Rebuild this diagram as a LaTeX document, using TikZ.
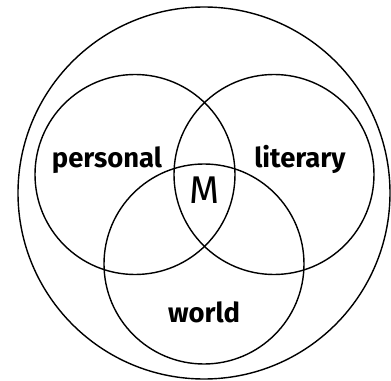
\documentclass[tikz,border=0pt]{standalone}
\usepackage{fontspec}
\setmainfont{Fira Sans}
\usepackage{tikz}

\begin{document}
\begin{tikzpicture}[line width=0.8pt,
  lbl/.style={anchor=base,inner sep=0pt,font=\fontsize{15.6}{18}\selectfont\bfseries}]
\useasboundingbox (-4.08,-3.76) rectangle (3.74,3.86);
\draw (0,0) circle (3.72);
\draw (-1.38,0.37) circle (2);
\draw (1.4,0.37) circle (2);
\draw (0,-1.42) circle (2);
\node[lbl] (personal) at (-1.94,0.5) {personal};
\node[lbl] (literary) at (1.92,0.5) {literary};
\node[lbl] (world) at (0,-2.58) {world};
\node[anchor=base,inner sep=0pt,font=\fontsize{22}{26}\selectfont] (m) at (0.01,-0.22) {M};
\end{tikzpicture}
\end{document}
